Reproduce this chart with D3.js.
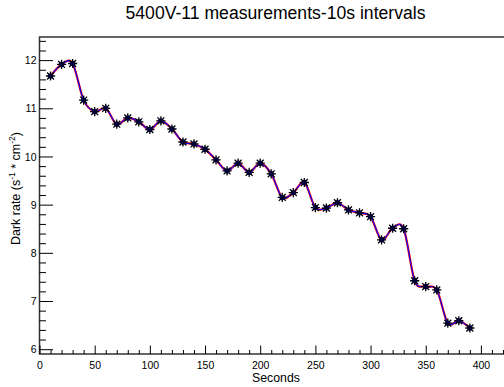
<!DOCTYPE html>
<html>
<head>
<meta charset="utf-8">
<script src="https://d3js.org/d3.v7.min.js"></script>
<style>
  body { margin: 0; background: #fff; }
  text { font-family: "Liberation Sans", Arial, sans-serif; fill: #000; }
</style>
</head>
<body>
<div id="chart"></div>
<script>

  // data
  var seconds = [10, 20, 30, 40, 50, 60, 70, 80, 90, 100, 110, 120, 130, 140, 150,
                 160, 170, 180, 190, 200, 210, 220, 230, 240, 250, 260, 270, 280,
                 290, 300, 310, 320, 330, 340, 350, 360, 370, 380, 390];
  var darkRate = [11.67, 11.91, 11.93, 11.17, 10.93, 11.00, 10.67, 10.80, 10.72, 10.56,
                  10.74, 10.57, 10.30, 10.26, 10.15, 9.93, 9.70, 9.86, 9.67, 9.86,
                  9.64, 9.15, 9.25, 9.46, 8.94, 8.93, 9.04, 8.89, 8.83, 8.75,
                  8.27, 8.51, 8.50, 7.42, 7.30, 7.23, 6.54, 6.59, 6.44];
  var xTicks = [0, 50, 100, 150, 200, 250, 300, 350, 400];
  var yTicks = [6, 7, 8, 9, 10, 11, 12];

  var width = 504, height = 387;
  var frame = { left: 39.5, top: 37, right: 511.8, bottom: 354 };

  var svg = d3.select("#chart").append("svg")
    .attr("width", width)
    .attr("height", height);

  var x = d3.scaleLinear().domain([0, 428]).range([frame.left, frame.right]);
  var y = d3.scaleLinear().domain([5.90, 12.48]).range([frame.bottom, frame.top]);

  var pts = seconds.map(function(s, i) { return { s: s, v: darkRate[i] }; });

  // title
  svg.append("text")
    .attr("x", 275.5).attr("y", 18.5)
    .attr("text-anchor", "middle")
    .style("font-size", "17.6px")
    .text("5400V-11 measurements-10s intervals");

  // frame
  svg.append("rect")
    .attr("x", frame.left).attr("y", frame.top)
    .attr("width", frame.right - frame.left)
    .attr("height", frame.bottom - frame.top)
    .attr("fill", "none")
    .attr("stroke", "#333")
    .attr("stroke-width", 1.5);

  // x axis
  var xAxis = d3.axisBottom(x)
    .tickValues(d3.range(0, 430, 10))
    .tickSize(0)
    .tickFormat("");
  var gx = svg.append("g").attr("transform", "translate(0," + frame.bottom + ")").call(xAxis);
  gx.select(".domain").remove();
  gx.selectAll(".tick line")
    .attr("y2", function(d) { return d % 50 === 0 ? -8.5 : -4; })
    .attr("stroke", "#000");
  gx.selectAll(".tick")
    .filter(function(d) { return xTicks.indexOf(d) >= 0; })
    .append("text")
    .attr("y", 15)
    .attr("text-anchor", "middle")
    .style("font-size", "10.5px")
    .text(function(d) { return d; });

  svg.append("text")
    .attr("x", 276).attr("y", 382)
    .attr("text-anchor", "middle")
    .style("font-size", "12.3px")
    .text("Seconds");

  // y axis
  var yMinor = d3.range(60, 125, 2).map(function(d) { return d / 10; });
  var yAxis = d3.axisLeft(y)
    .tickValues(yMinor)
    .tickSize(0)
    .tickFormat("");
  var gy = svg.append("g").attr("transform", "translate(" + frame.left + ",0)").call(yAxis);
  gy.select(".domain").remove();
  gy.selectAll(".tick line")
    .attr("x2", function(d) { return yTicks.indexOf(d) >= 0 ? 13.5 : 6.5; })
    .attr("stroke", "#000");
  gy.selectAll(".tick")
    .filter(function(d) { return yTicks.indexOf(d) >= 0; })
    .append("text")
    .attr("x", -3)
    .attr("dy", "0.35em")
    .attr("text-anchor", "end")
    .style("font-size", "10.5px")
    .text(function(d) { return d; });

  var ylab = svg.append("text")
    .attr("transform", "translate(20,132) rotate(-90)")
    .attr("text-anchor", "end")
    .style("font-size", "12.5px");
  ylab.append("tspan").text("Dark rate (s");
  ylab.append("tspan").attr("dy", -5).style("font-size", "8.5px").text("-1");
  ylab.append("tspan").attr("dy", 5).text(" * cm");
  ylab.append("tspan").attr("dy", -5).style("font-size", "8.5px").text("-2");
  ylab.append("tspan").attr("dy", 5).text(")");

  // smooth curve
  var line = d3.line()
    .x(function(d) { return x(d.s); })
    .y(function(d) { return y(d.v); })
    .curve(d3.curveCatmullRom.alpha(0));

  svg.append("path").datum(pts)
    .attr("d", line)
    .attr("fill", "none")
    .attr("stroke", "#ff0000")
    .attr("stroke-width", 2.2);
  svg.append("path").datum(pts)
    .attr("d", line)
    .attr("fill", "none")
    .attr("stroke", "#0000ff")
    .attr("stroke-width", 1.1);

  // star markers
  var r = 4.6;
  var mk = svg.append("g").selectAll("g")
    .data(pts).enter().append("g")
    .attr("transform", function(d) { return "translate(" + x(d.s) + "," + y(d.v) + ")"; });
  mk.append("path")
    .attr("d", "M" + (-r) + ",0H" + r + "M0," + (-r) + "V" + r +
               "M" + (-r * 0.75) + "," + (-r * 0.75) + "L" + (r * 0.75) + "," + (r * 0.75) +
               "M" + (-r * 0.75) + "," + (r * 0.75) + "L" + (r * 0.75) + "," + (-r * 0.75))
    .attr("stroke", "#000")
    .attr("stroke-width", 1.3);
  mk.append("circle")
    .attr("r", 2.7)
    .attr("fill", "#000033");

</script>
</body>
</html>
